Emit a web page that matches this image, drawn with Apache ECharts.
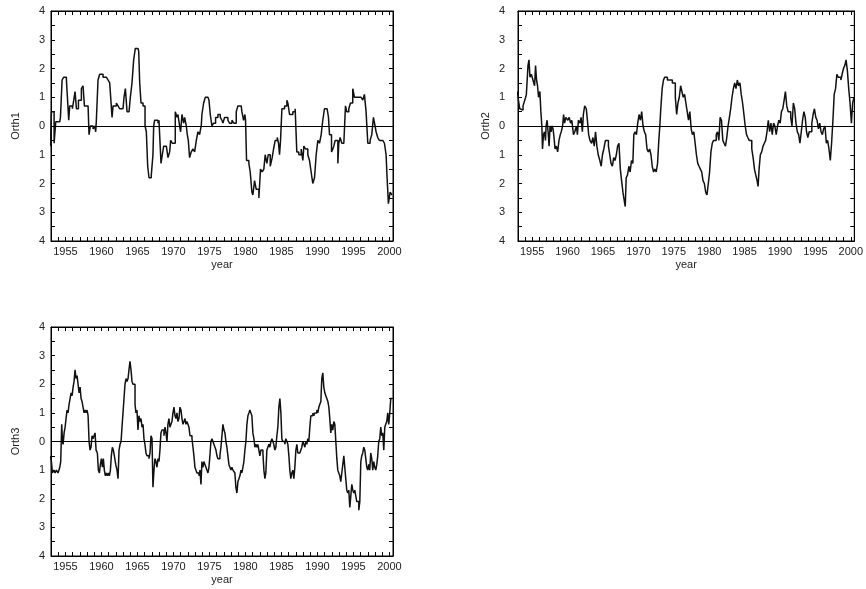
<!DOCTYPE html>
<html>
<head>
<meta charset="utf-8">
<script src="https://cdn.jsdelivr.net/npm/echarts@6/dist/echarts.min.js"></script>
<style>
html,body{margin:0;padding:0;background:#fff;}
#chart{width:866px;height:589px;}
</style>
</head>
<body>
<div id="chart"></div>
<script>
// ---- data: [year, value] ----
var orth1 = [
[1952.92,-0.7],[1953.06,0.5],[1953.43,-0.6],[1953.66,0.15],[1954.22,0.1],[1954.31,0.3],[1954.54,1.6],[1954.77,1.7],[1955.14,1.6],[1955.28,1.0],[1955.46,0.2],[1955.60,0.7],[1955.97,0.6],[1956.16,0.9],[1956.34,1.2],[1956.53,0.6],[1956.81,0.9],[1957.22,1.3],[1957.45,1.4],[1957.64,0.7],[1958.15,0.65],[1958.28,-0.3],[1958.47,0.0],[1958.84,-0.1],[1959.07,0.0],[1959.21,-0.2],[1959.30,0.2],[1959.53,1.6],[1959.76,1.8],[1960.23,1.7],[1960.69,1.75],[1960.92,1.6],[1961.15,1.5],[1961.29,1.0],[1961.48,0.3],[1961.62,0.7],[1962.08,0.8],[1962.31,0.7],[1962.54,0.6],[1963.00,0.6],[1963.14,1.0],[1963.33,1.3],[1963.56,0.5],[1963.84,0.5],[1964.02,1.0],[1964.25,1.5],[1964.48,2.3],[1964.71,2.7],[1965.08,2.65],[1965.18,2.6],[1965.32,1.5],[1965.50,0.8],[1965.78,0.7],[1966.06,0.0],[1966.24,-0.2],[1966.43,-1.4],[1966.61,-1.8],[1966.93,-1.7],[1967.16,-1.0],[1967.26,0.0],[1967.40,0.2],[1967.86,0.1],[1968.00,0.2],[1968.09,-0.3],[1968.28,-1.3],[1968.46,-1.0],[1968.65,-0.7],[1969.02,-0.7],[1969.25,-1.1],[1969.48,-0.9],[1969.62,-0.5],[1969.85,-0.6],[1970.03,-0.6],[1970.26,0.5],[1970.50,0.3],[1970.63,0.4],[1970.86,0.0],[1971.00,-0.2],[1971.19,0.4],[1971.42,0.1],[1971.56,0.3],[1971.79,0.0],[1971.93,-0.3],[1972.07,-0.5],[1972.25,-1.1],[1972.48,-0.9],[1972.72,-0.8],[1972.95,-0.9],[1973.18,-0.5],[1973.41,-0.2],[1973.64,-0.3],[1973.78,-0.1],[1973.87,0.0],[1973.96,0.4],[1974.20,0.8],[1974.43,1.0],[1974.80,1.0],[1974.94,0.9],[1975.12,0.4],[1975.35,0.0],[1975.58,0.1],[1975.86,0.3],[1976.18,0.4],[1976.51,0.3],[1976.74,0.2],[1976.88,0.1],[1977.11,0.3],[1977.57,0.2],[1977.80,0.1],[1978.13,0.2],[1978.40,0.1],[1978.73,0.5],[1978.96,0.7],[1979.42,0.7],[1979.51,0.5],[1979.75,0.2],[1979.93,0.4],[1980.02,0.2],[1980.16,-1.2],[1980.48,-1.3],[1980.67,-1.6],[1980.90,-2.3],[1981.04,-2.4],[1981.27,-1.9],[1981.50,-2.2],[1981.87,-2.5],[1982.10,-1.5],[1982.33,-1.6],[1982.56,-1.5],[1982.75,-1.0],[1982.98,-1.3],[1983.17,-1.0],[1983.45,-1.4],[1983.72,-1.1],[1983.91,-0.8],[1984.14,-0.5],[1984.42,-0.4],[1984.60,-0.6],[1984.74,-1.0],[1984.88,-0.5],[1985.07,0.6],[1985.44,0.7],[1985.76,0.9],[1985.90,0.8],[1986.13,0.4],[1986.59,0.5],[1986.91,0.6],[1987.14,-0.9],[1987.42,-1.0],[1987.75,-0.8],[1987.98,-1.2],[1988.12,-0.7],[1988.35,-0.8],[1988.67,-1.0],[1988.90,-1.2],[1989.13,-1.6],[1989.36,-2.0],[1989.60,-1.8],[1989.83,-1.0],[1990.06,-0.5],[1990.29,-0.6],[1990.52,-0.3],[1990.75,0.2],[1990.98,0.6],[1991.35,0.6],[1991.54,0.3],[1991.68,-0.3],[1991.96,-0.9],[1992.14,-0.8],[1992.28,-0.7],[1992.47,-0.5],[1992.84,-1.3],[1992.97,-0.6],[1993.16,-0.4],[1993.39,-0.6],[1993.67,-0.6],[1993.90,0.7],[1994.08,0.5],[1994.36,0.6],[1994.59,0.8],[1994.91,1.3],[1995.14,1.0],[1996.07,1.0],[1996.30,0.9],[1996.53,1.1],[1996.76,0.5],[1997.00,-0.6],[1997.32,-0.5],[1997.55,-0.3],[1997.78,0.3],[1998.01,0.0],[1998.15,-0.2],[1998.38,-0.4],[1998.61,-0.5],[1999.08,-0.5],[1999.31,-0.6],[1999.54,-1.0],[1999.68,-1.8],[1999.86,-2.7],[2000.10,-2.3],[2000.37,-2.4]
];
var orth2 = [
[1952.92,1.2],[1953.06,0.9],[1953.25,0.6],[1953.53,0.55],[1953.71,0.7],[1953.99,0.7],[1954.08,1.0],[1954.18,1.1],[1954.32,1.7],[1954.41,2.1],[1954.55,2.3],[1954.69,1.7],[1954.88,1.8],[1955.11,1.6],[1955.34,1.4],[1955.48,2.1],[1955.62,1.6],[1955.76,1.4],[1955.90,1.0],[1956.09,1.2],[1956.23,0.5],[1956.37,0.0],[1956.46,-0.8],[1956.60,-0.3],[1956.74,-0.2],[1956.88,-0.5],[1956.97,0.0],[1957.11,0.2],[1957.25,-0.2],[1957.39,-0.7],[1957.53,0.0],[1957.67,-0.2],[1957.81,0.0],[1957.95,-0.1],[1958.09,-0.4],[1958.23,-0.8],[1958.41,-0.7],[1958.60,-0.9],[1958.79,-0.5],[1958.97,-0.3],[1959.11,-0.2],[1959.30,0.0],[1959.44,0.4],[1959.58,0.1],[1959.76,0.3],[1960.04,0.2],[1960.23,0.3],[1960.42,0.1],[1960.60,0.2],[1960.84,-0.3],[1961.02,-0.2],[1961.25,0.0],[1961.39,-0.3],[1961.53,0.2],[1961.77,0.1],[1961.91,0.3],[1962.09,-0.2],[1962.23,0.4],[1962.42,0.7],[1962.65,0.6],[1962.84,0.1],[1962.98,-0.3],[1963.16,-0.5],[1963.40,-0.6],[1963.58,-0.4],[1963.77,-0.7],[1963.95,-0.2],[1964.14,-0.7],[1964.33,-1.0],[1964.56,-1.2],[1964.75,-1.4],[1964.93,-1.0],[1965.12,-0.8],[1965.35,-0.5],[1965.58,-0.5],[1965.77,-0.7],[1965.96,-1.0],[1966.14,-1.3],[1966.33,-1.4],[1966.52,-1.1],[1966.70,-1.2],[1966.89,-1.0],[1967.07,-0.7],[1967.26,-0.6],[1967.45,-1.5],[1967.63,-1.9],[1967.82,-2.3],[1968.01,-2.6],[1968.15,-2.8],[1968.28,-1.8],[1968.47,-1.7],[1968.66,-1.4],[1968.84,-1.6],[1969.03,-1.2],[1969.22,-1.3],[1969.36,-0.3],[1969.54,-0.2],[1969.73,-0.3],[1969.91,0.1],[1970.10,0.4],[1970.29,0.2],[1970.47,0.5],[1970.66,0.0],[1970.85,-0.2],[1971.03,-0.3],[1971.22,-0.8],[1971.40,-0.9],[1971.59,-0.8],[1971.78,-1.0],[1971.96,-1.4],[1972.15,-1.6],[1972.34,-1.5],[1972.52,-1.6],[1972.71,-1.3],[1972.89,-0.5],[1973.03,0.0],[1973.17,0.6],[1973.36,1.3],[1973.55,1.6],[1973.73,1.7],[1974.10,1.6],[1974.48,1.6],[1974.80,1.5],[1975.04,1.5],[1975.22,1.0],[1975.41,0.4],[1975.59,0.8],[1975.78,1.0],[1975.97,1.4],[1976.15,1.2],[1976.34,1.0],[1976.53,1.1],[1976.71,0.8],[1976.90,0.5],[1977.08,0.2],[1977.27,0.5],[1977.46,-0.1],[1977.64,-0.3],[1977.83,-0.2],[1978.02,-0.6],[1978.20,-1.0],[1978.39,-1.3],[1978.57,-1.4],[1978.76,-1.5],[1978.95,-1.6],[1979.13,-1.9],[1979.32,-2.0],[1979.51,-2.3],[1979.69,-2.4],[1979.88,-2.0],[1980.06,-1.6],[1980.25,-0.9],[1980.44,-0.6],[1980.62,-0.5],[1980.81,-0.5],[1981.00,-0.3],[1981.18,-0.2],[1981.37,-0.5],[1981.55,0.3],[1981.74,0.2],[1981.93,-0.5],[1982.11,-0.6],[1982.30,-0.7],[1982.49,-0.4],[1982.67,0.0],[1982.86,0.3],[1983.04,0.6],[1983.23,1.0],[1983.42,1.3],[1983.60,1.5],[1983.79,1.3],[1983.98,1.6],[1984.16,1.4],[1984.35,1.5],[1984.53,1.1],[1984.72,0.8],[1984.91,0.4],[1985.09,0.0],[1985.28,-0.3],[1985.46,-0.4],[1985.65,-0.5],[1985.84,-0.5],[1986.02,-0.8],[1986.21,-1.1],[1986.40,-1.5],[1986.58,-1.7],[1986.77,-1.9],[1986.91,-2.1],[1987.05,-1.5],[1987.23,-1.0],[1987.42,-0.9],[1987.61,-0.7],[1987.79,-0.6],[1987.98,-0.5],[1988.17,-0.2],[1988.35,0.2],[1988.54,-0.2],[1988.72,0.1],[1988.91,-0.3],[1989.10,0.1],[1989.28,0.0],[1989.47,-0.3],[1989.66,0.0],[1989.84,0.2],[1990.03,0.1],[1990.21,0.5],[1990.40,0.6],[1990.59,0.9],[1990.77,1.2],[1990.96,0.7],[1991.15,0.5],[1991.33,0.5],[1991.52,0.3],[1991.70,0.0],[1991.89,0.8],[1992.08,0.6],[1992.26,0.1],[1992.45,-0.2],[1992.64,-0.3],[1992.82,-0.6],[1993.01,-0.2],[1993.19,0.2],[1993.38,0.5],[1993.57,0.3],[1993.75,-0.2],[1993.94,-0.4],[1994.13,-0.2],[1994.31,-0.2],[1994.50,0.1],[1994.68,0.4],[1994.87,0.6],[1995.06,0.3],[1995.24,0.2],[1995.43,-0.1],[1995.62,0.1],[1995.80,-0.2],[1995.99,-0.3],[1996.17,-0.1],[1996.36,0.0],[1996.55,-0.6],[1996.73,-0.5],[1996.92,-0.8],[1997.11,-1.2],[1997.29,-0.6],[1997.48,0.2],[1997.66,1.1],[1997.85,1.3],[1998.04,1.8],[1998.22,1.7],[1998.41,1.7],[1998.60,1.6],[1998.78,1.8],[1998.97,2.0],[1999.15,2.1],[1999.34,2.3],[1999.53,1.9],[1999.71,1.3],[1999.90,0.8],[2000.09,0.1],[2000.27,0.8],[2000.46,1.0]
];
var orth3 = [
[1952.92,-0.5],[1953.06,-0.7],[1953.20,-1.1],[1953.38,-1.0],[1953.57,-1.1],[1953.75,-1.0],[1953.98,-1.1],[1954.22,-0.9],[1954.35,-0.7],[1954.49,0.6],[1954.59,0.0],[1954.68,-0.1],[1954.82,0.3],[1954.96,0.5],[1955.09,0.8],[1955.23,1.1],[1955.37,1.0],[1955.51,1.3],[1955.65,1.5],[1955.79,1.7],[1955.93,1.6],[1956.07,1.9],[1956.20,2.1],[1956.34,2.5],[1956.48,2.2],[1956.62,2.3],[1956.76,2.0],[1956.90,1.7],[1957.04,1.9],[1957.18,1.5],[1957.31,1.4],[1957.45,1.2],[1957.59,1.0],[1957.73,1.1],[1957.87,1.0],[1958.01,1.1],[1958.15,0.9],[1958.29,0.0],[1958.42,-0.3],[1958.56,-0.2],[1958.70,0.2],[1958.84,0.1],[1958.98,0.2],[1959.12,0.3],[1959.26,-0.3],[1959.44,-0.4],[1959.58,-1.0],[1959.72,-1.1],[1959.86,-0.8],[1960.00,-0.6],[1960.14,-0.9],[1960.27,-0.6],[1960.41,-1.0],[1960.55,-1.2],[1960.69,-1.1],[1960.83,-1.2],[1960.97,-1.1],[1961.11,-1.2],[1961.25,-1.0],[1961.38,-0.5],[1961.52,-0.2],[1961.66,-0.3],[1961.80,-0.5],[1961.99,-0.8],[1962.17,-1.0],[1962.31,-1.3],[1962.45,-0.3],[1962.59,-0.1],[1962.73,0.0],[1962.86,0.5],[1963.00,1.0],[1963.14,1.5],[1963.28,2.0],[1963.42,2.2],[1963.56,2.1],[1963.70,2.2],[1963.83,2.5],[1963.97,2.8],[1964.11,2.5],[1964.25,2.1],[1964.39,2.0],[1964.53,2.0],[1964.67,1.3],[1964.80,1.0],[1964.94,1.1],[1965.08,0.4],[1965.22,0.9],[1965.36,0.7],[1965.50,0.8],[1965.64,0.5],[1965.78,0.6],[1965.91,0.1],[1966.05,-0.1],[1966.19,-0.4],[1966.33,-0.5],[1966.47,-0.5],[1966.61,-0.6],[1966.75,-0.4],[1966.89,0.2],[1967.03,0.1],[1967.16,-1.6],[1967.30,-1.0],[1967.44,-0.6],[1967.58,-0.7],[1967.72,-0.9],[1967.86,-0.6],[1968.00,-0.7],[1968.13,-0.3],[1968.27,0.3],[1968.41,0.4],[1968.55,0.4],[1968.69,0.2],[1968.83,0.5],[1968.97,0.3],[1969.11,0.0],[1969.24,0.6],[1969.38,0.8],[1969.52,0.5],[1969.66,0.6],[1969.80,0.7],[1969.94,1.0],[1970.08,1.2],[1970.22,0.9],[1970.36,0.8],[1970.49,1.0],[1970.63,0.7],[1970.77,0.8],[1970.91,1.2],[1971.05,1.1],[1971.19,0.8],[1971.33,0.6],[1971.47,0.7],[1971.61,0.8],[1971.74,0.6],[1971.88,0.7],[1972.02,0.6],[1972.16,0.5],[1972.30,0.2],[1972.44,0.2],[1972.58,0.1],[1972.72,-0.2],[1972.85,-0.5],[1972.99,-0.9],[1973.13,-1.0],[1973.27,-1.1],[1973.41,-1.1],[1973.55,-1.2],[1973.69,-1.0],[1973.83,-1.5],[1973.96,-0.7],[1974.10,-0.9],[1974.24,-0.7],[1974.38,-0.8],[1974.52,-0.9],[1974.66,-1.0],[1974.80,-1.1],[1974.94,-0.9],[1975.07,-0.5],[1975.21,0.0],[1975.35,0.1],[1975.49,0.0],[1975.63,-0.1],[1975.77,-0.2],[1975.91,-0.3],[1976.05,-0.5],[1976.18,-0.6],[1976.32,-0.6],[1976.46,-0.5],[1976.60,-0.2],[1976.74,0.2],[1976.88,0.6],[1977.02,0.4],[1977.16,0.3],[1977.29,0.0],[1977.43,-0.2],[1977.57,-0.5],[1977.71,-0.8],[1977.85,-0.9],[1977.99,-1.0],[1978.13,-0.9],[1978.27,-1.0],[1978.40,-1.0],[1978.54,-1.1],[1978.68,-1.6],[1978.82,-1.8],[1978.96,-1.4],[1979.10,-1.3],[1979.24,-1.2],[1979.38,-1.0],[1979.51,-1.1],[1979.65,-0.9],[1979.79,-0.7],[1979.93,-0.3],[1980.07,0.0],[1980.21,0.6],[1980.35,0.9],[1980.49,1.0],[1980.62,1.1],[1980.76,1.0],[1980.90,0.9],[1981.04,0.3],[1981.18,0.1],[1981.32,-0.2],[1981.46,-0.1],[1981.60,-0.2],[1981.73,-0.1],[1981.87,-0.3],[1982.01,-0.5],[1982.15,-0.3],[1982.29,-0.3],[1982.43,-0.4],[1982.57,-1.0],[1982.71,-1.3],[1982.84,-1.1],[1982.98,-0.3],[1983.12,-0.2],[1983.26,-0.1],[1983.40,-0.2],[1983.54,0.0],[1983.68,0.1],[1983.82,0.0],[1983.95,-0.1],[1984.09,-0.3],[1984.23,-0.2],[1984.37,0.2],[1984.51,0.5],[1984.65,1.2],[1984.79,1.5],[1984.93,1.0],[1985.06,0.1],[1985.20,0.0],[1985.34,0.0],[1985.48,-0.1],[1985.62,0.1],[1985.76,0.0],[1985.90,-0.1],[1986.04,-0.5],[1986.17,-1.0],[1986.31,-1.3],[1986.45,-1.1],[1986.59,-1.0],[1986.73,-1.3],[1986.87,-0.9],[1987.01,-0.3],[1987.15,-0.1],[1987.28,-0.4],[1987.42,-0.4],[1987.56,-0.4],[1987.70,-0.3],[1987.84,-0.2],[1987.98,0.0],[1988.12,-0.1],[1988.26,-0.2],[1988.39,0.0],[1988.53,-0.1],[1988.67,0.1],[1988.81,0.0],[1988.95,0.5],[1989.09,0.9],[1989.23,0.9],[1989.37,1.0],[1989.50,0.9],[1989.64,1.0],[1989.78,1.0],[1989.92,1.1],[1990.06,1.0],[1990.20,1.2],[1990.34,1.3],[1990.48,1.4],[1990.61,2.2],[1990.75,2.4],[1990.89,1.9],[1991.03,1.7],[1991.17,1.6],[1991.31,1.5],[1991.45,1.4],[1991.59,1.2],[1991.72,0.8],[1991.86,0.3],[1992.00,0.6],[1992.14,0.4],[1992.28,0.7],[1992.42,0.6],[1992.56,0.0],[1992.70,-0.6],[1992.83,-1.0],[1992.97,-1.1],[1993.11,-1.2],[1993.25,-1.4],[1993.39,-1.1],[1993.53,-0.8],[1993.67,-0.5],[1993.81,-0.5],[1993.94,-1.3],[1994.08,-1.7],[1994.22,-1.8],[1994.36,-1.7],[1994.50,-2.3],[1994.64,-1.9],[1994.78,-1.5],[1994.92,-1.7],[1995.05,-1.8],[1995.19,-1.7],[1995.33,-1.9],[1995.47,-2.1],[1995.61,-2.1],[1995.75,-2.4],[1995.89,-2.1],[1996.03,-0.7],[1996.16,-0.5],[1996.30,-0.4],[1996.44,-0.2],[1996.58,-0.3],[1996.72,-0.6],[1996.86,-0.9],[1997.00,-1.0],[1997.14,-0.8],[1997.27,-1.0],[1997.41,-0.4],[1997.55,-0.6],[1997.69,-1.0],[1997.83,-0.7],[1997.97,-0.9],[1998.11,-1.0],[1998.25,-0.8],[1998.38,-0.5],[1998.52,0.0],[1998.66,0.1],[1998.80,0.5],[1998.94,0.2],[1999.08,0.3],[1999.22,-0.3],[1999.36,0.5],[1999.49,0.6],[1999.63,0.7],[1999.77,1.0],[1999.91,0.6],[2000.05,1.0],[2000.19,1.5],[2000.37,1.5]
];
var seriesNames = ['Orth1', 'Orth2', 'Orth3'];
var xAxisName = 'year';

// ---- layout / style ----
var FONT = 'Liberation Sans, Arial, sans-serif';
var TXT = '#222';
var panels = [
  {left: 51, top: 11, width: 342, height: 230, data: orth1, yMargin: 6, yNameGap: 30},
  {left: 518, top: 11, width: 341, height: 230, data: orth2, yMargin: 13, yNameGap: 27},
  {left: 51, top: 327, width: 342, height: 229, data: orth3, yMargin: 6, yNameGap: 30}
];

function isInt(v){ return Math.abs(v - Math.round(v)) < 1e-6; }

var grids = [], xAxes = [], yAxes = [], series = [];
panels.forEach(function(p, i){
  grids.push({left: p.left, top: p.top, width: p.width, height: p.height,
    show: true, borderColor: '#000', borderWidth: 1, containLabel: false});
  var tick = {show: true, inside: true, length: 4, lineStyle: {color: '#000', width: 1}};
  var line = {show: true, onZero: false, lineStyle: {color: '#000', width: 1}};
  xAxes.push({type: 'value', gridIndex: i, position: 'bottom', min: 1953, max: 2000.5, interval: 1,
    axisLine: line, axisTick: tick, splitLine: {show: false},
    axisLabel: {margin: 5, fontSize: 11, color: TXT, fontFamily: FONT,
      formatter: function(v){ return (isInt(v) && Math.round(v) % 5 === 0) ? String(Math.round(v)) : ''; }},
    name: xAxisName, nameLocation: 'middle', nameGap: 18,
    nameTextStyle: {fontSize: 11, color: TXT, fontFamily: FONT}});
  xAxes.push({type: 'value', gridIndex: i, position: 'top', min: 1953, max: 2000.5, interval: 1,
    axisLine: line, axisTick: tick, splitLine: {show: false}, axisLabel: {show: false}});
  yAxes.push({type: 'value', gridIndex: i, position: 'left', min: -4, max: 4, interval: 0.5,
    axisLine: line, axisTick: tick, splitLine: {show: false},
    axisLabel: {margin: p.yMargin, fontSize: 11, color: TXT, fontFamily: FONT,
      formatter: function(v){ return isInt(v) ? String(Math.abs(Math.round(v))) : ''; }},
    name: seriesNames[i], nameLocation: 'middle', nameGap: p.yNameGap,
    nameTextStyle: {fontSize: 11, color: TXT, fontFamily: FONT}});
  yAxes.push({type: 'value', gridIndex: i, position: 'right', min: -4, max: 4, interval: 0.5,
    axisLine: line, axisTick: tick, splitLine: {show: false}, axisLabel: {show: false}});
  series.push({type: 'line', name: seriesNames[i], xAxisIndex: 2 * i, yAxisIndex: 2 * i,
    data: p.data, step: 'end', showSymbol: false, symbol: 'none',
    lineStyle: {color: '#111', width: 1.5}, animation: false, silent: true,
    markLine: {silent: true, symbol: ['none', 'none'], label: {show: false},
      lineStyle: {color: '#000', width: 1, type: 'solid'}, data: [{yAxis: 0}], animation: false}});
});

var chart = echarts.init(document.getElementById('chart'), null, {renderer: 'canvas'});
chart.setOption({
  backgroundColor: '#fff',
  animation: false,
  grid: grids, xAxis: xAxes, yAxis: yAxes, series: series
});
</script>
</body>
</html>
